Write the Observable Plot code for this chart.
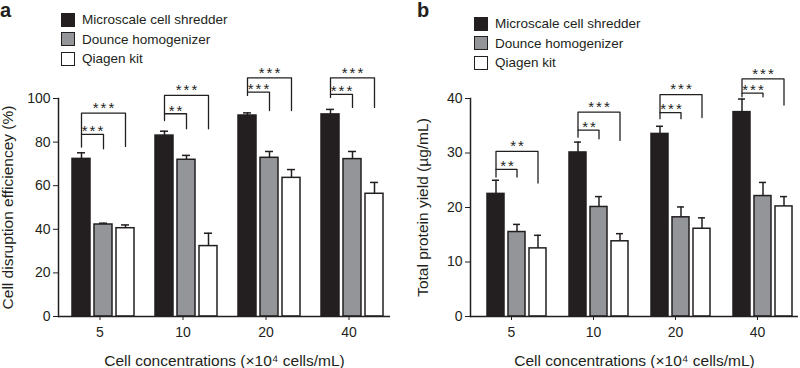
<!DOCTYPE html>
<html><head><meta charset="utf-8">
<script src="https://cdn.jsdelivr.net/npm/d3@7"></script>
<script src="https://cdn.jsdelivr.net/npm/@observablehq/plot@0.6"></script>
<style>
body{margin:0;background:#fff;font-family:"Liberation Sans",Arial,sans-serif;color:#231f20}
#wrap{display:flex;width:800px;height:368px}
.panel{position:relative;width:400px;height:368px;overflow:visible}
.panel svg{position:absolute;left:0;top:0}
.panel svg g[aria-label="y-axis label"], .panel svg g[aria-label="fx-axis label"]{font-size:15.5px}
.panel svg g[aria-label="text"] text{letter-spacing:2px}
.tag{position:absolute;top:0;font-weight:bold;font-size:20px;line-height:20px}
.legend{position:absolute;font-size:13.5px}
.legend .row{display:flex;align-items:center;height:19.5px;white-space:nowrap}
.legend .sw{width:12px;height:12px;border:1.5px solid #231f20;margin-right:7px}
</style></head><body>
<div id="wrap"><div class="panel" id="pa"></div><div class="panel" id="pb"></div></div>
<script>
const groups = ["5", "10", "20", "40"];
const methods = ["Microscale cell shredder", "Dounce homogenizer", "Qiagen kit"];
const colors = ["#231f20", "#939598", "#ffffff"];

// Panel a: cell disruption efficiency (%)
const effShredder = [72.3, 83.0, 92.2, 92.7];
const effShredderErr = [2.8, 2.0, 1.2, 2.3];
const effDounce = [42.2, 71.9, 72.8, 72.2];
const effDounceErr = [0.6, 2.0, 2.9, 3.5];
const effQiagen = [40.5, 32.3, 63.6, 56.3];
const effQiagenErr = [1.5, 5.9, 3.8, 5.2];
const effTicks = [0, 20, 40, 60, 80, 100];
const effBrackets = [
  {group: "5", to: "Dounce homogenizer", top: 83.5, leftEnd: 77.7, rightEnd: 76.9, label: "***"},
  {group: "5", to: "Qiagen kit", top: 93.3, leftEnd: 83.5, rightEnd: 78.0, label: "***"},
  {group: "10", to: "Dounce homogenizer", top: 93.0, leftEnd: 89.9, rightEnd: 86.1, label: "**"},
  {group: "10", to: "Qiagen kit", top: 101.4, leftEnd: 93.0, rightEnd: 86.1, label: "***"},
  {group: "20", to: "Dounce homogenizer", top: 102.9, leftEnd: 101.4, rightEnd: 94.5, label: "***"},
  {group: "20", to: "Qiagen kit", top: 109.5, leftEnd: 102.9, rightEnd: 94.5, label: "***"},
  {group: "40", to: "Dounce homogenizer", top: 101.9, leftEnd: 100.5, rightEnd: 95.9, label: "***"},
  {group: "40", to: "Qiagen kit", top: 109.5, leftEnd: 101.9, rightEnd: 95.9, label: "***"}
];

// Panel b: total protein yield (µg/mL)
const yieldShredder = [22.5, 30.1, 33.5, 37.5];
const yieldShredderErr = [2.5, 1.9, 1.4, 2.4];
const yieldDounce = [15.5, 20.1, 18.2, 22.1];
const yieldDounceErr = [1.4, 1.9, 1.9, 2.5];
const yieldQiagen = [12.5, 13.8, 16.1, 20.2];
const yieldQiagenErr = [2.4, 1.4, 2.0, 1.8];
const yieldTicks = [0, 10, 20, 30, 40];
const yieldBrackets = [
  {group: "5", to: "Dounce homogenizer", top: 27.0, leftEnd: 25.6, rightEnd: 25.6, label: "**"},
  {group: "5", to: "Qiagen kit", top: 30.3, leftEnd: 27.0, rightEnd: 24.5, label: "**"},
  {group: "10", to: "Dounce homogenizer", top: 34.2, leftEnd: 32.9, rightEnd: 32.6, label: "**"},
  {group: "10", to: "Qiagen kit", top: 37.5, leftEnd: 34.2, rightEnd: 32.3, label: "***"},
  {group: "20", to: "Dounce homogenizer", top: 37.4, leftEnd: 36.3, rightEnd: 36.3, label: "***"},
  {group: "20", to: "Qiagen kit", top: 40.7, leftEnd: 37.4, rightEnd: 36.5, label: "***"},
  {group: "40", to: "Dounce homogenizer", top: 41.0, leftEnd: 40.3, rightEnd: 40.3, label: "***"},
  {group: "40", to: "Qiagen kit", top: 43.6, leftEnd: 41.0, rightEnd: 38.8, label: "***"}
];

const xTitle = "Cell concentrations (×10⁴ cells/mL)";
const ink = "#231f20";

function panel(o) {
  const data = [];
  groups.forEach((g, i) => methods.forEach((m, j) =>
    data.push({group: g, method: m, value: o.values[j][i], err: o.errors[j][i]})));
  const lines = [];
  o.brackets.forEach((b, k) => {
    lines.push({id: k, group: b.group, method: methods[0], y: b.leftEnd});
    lines.push({id: k, group: b.group, method: methods[0], y: b.top});
    lines.push({id: k, group: b.group, method: b.to, y: b.top});
    lines.push({id: k, group: b.group, method: b.to, y: b.rightEnd});
  });
  const inner = o.brackets.filter(b => b.to === methods[1]);
  const outer = o.brackets.filter(b => b.to === methods[2]);
  const plot = Plot.plot({
    width: 400, height: 368,
    marginTop: 98, marginBottom: 52, marginLeft: o.marginLeft, marginRight: o.marginRight,
    style: {fontFamily: "'Liberation Sans', Arial, sans-serif", fontSize: "14px", color: ink, background: "transparent", overflow: "visible"},
    fx: {domain: groups, paddingInner: 0, paddingOuter: 0},
    x: {domain: methods, paddingInner: 0.2, paddingOuter: 0.486, align: o.align, axis: null},
    y: {domain: o.domain},
    color: {domain: methods, range: colors},
    marks: [
      Plot.barY(data, {fx: "group", x: "method", y: "value", fill: "method", stroke: ink, strokeWidth: 1.5}),
      Plot.ruleX(data, {fx: "group", x: "method", y1: "value", y2: d => d.value + d.err, stroke: ink, strokeWidth: 1.5}),
      Plot.tickY(data, {fx: "group", x: "method", y: d => d.value + d.err, insetLeft: 5, insetRight: 5, stroke: ink, strokeWidth: 1.5}),
      Plot.line(lines, {fx: "group", x: "method", y: "y", z: "id", stroke: ink, strokeWidth: 1.3}),
      Plot.text(inner, {fx: "group", x: () => methods[0], y: "top", text: "label", dx: 12, dy: -3, lineAnchor: "middle", fontSize: 15, fill: ink}),
      Plot.text(outer, {fx: "group", x: () => methods[1], y: "top", text: "label", dx: 1, dy: -5, lineAnchor: "middle", fontSize: 15, fill: ink}),
      Plot.ruleY([0], {stroke: ink, strokeWidth: 1.5}),
      Plot.frame({anchor: "left", facetAnchor: "left", stroke: ink, strokeWidth: 1.5}),
      Plot.axisY({ticks: o.ticks, tickSize: 5, tickPadding: 3, fontSize: 14, stroke: ink,
        label: o.yLabel, labelAnchor: "center", labelArrow: "none", labelOffset: o.labelOffset}),
      Plot.axisFx({anchor: "bottom", tickSize: 4, tickPadding: 7, fontSize: 14,
        label: xTitle, labelAnchor: "center", labelArrow: "none", labelOffset: 49})
    ]
  });
  const el = document.getElementById(o.id);
  el.appendChild(plot);
  const tag = document.createElement("div");
  tag.className = "tag"; tag.textContent = o.tag; tag.style.left = o.tagLeft + "px";
  el.appendChild(tag);
  const leg = document.createElement("div");
  leg.className = "legend"; leg.style.left = o.legendLeft + "px"; leg.style.top = o.legendTop + "px";
  methods.forEach((m, j) => {
    const row = document.createElement("div"); row.className = "row";
    const sw = document.createElement("div"); sw.className = "sw"; sw.style.background = colors[j];
    const t = document.createElement("span"); t.textContent = m;
    row.appendChild(sw); row.appendChild(t); leg.appendChild(row);
  });
  el.appendChild(leg);
}

panel({id: "pa", tag: "a", tagLeft: 0, legendLeft: 61, legendTop: 10,
  values: [effShredder, effDounce, effQiagen], errors: [effShredderErr, effDounceErr, effQiagenErr],
  brackets: effBrackets, domain: [0, 100], ticks: effTicks, yLabel: "Cell disruption efficiencey (%)",
  marginLeft: 58, marginRight: 10, align: 0.65, labelOffset: 57});
panel({id: "pb", tag: "b", tagLeft: 17, legendLeft: 74, legendTop: 14,
  values: [yieldShredder, yieldDounce, yieldQiagen], errors: [yieldShredderErr, yieldDounceErr, yieldQiagenErr],
  brackets: yieldBrackets, domain: [0, 40], ticks: yieldTicks, yLabel: "Total protein yield (µg/mL)",
  marginLeft: 70, marginRight: 2, align: 0.735, labelOffset: 54});
</script></body></html>
